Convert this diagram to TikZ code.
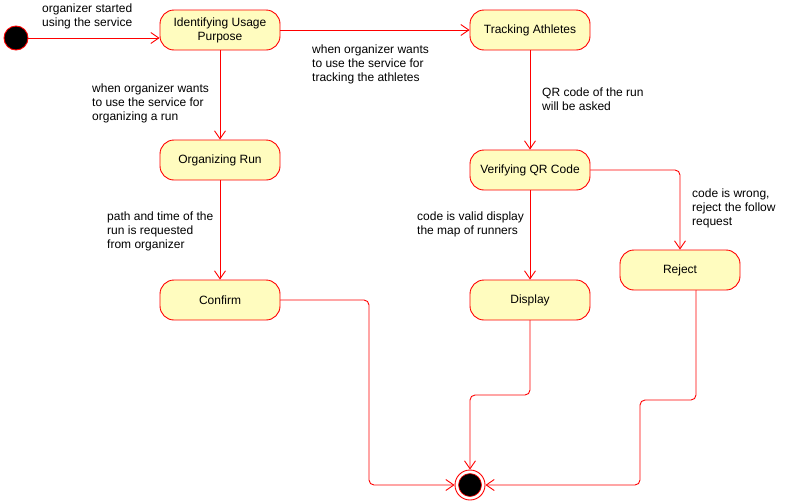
\documentclass[tikz,border=0pt]{standalone}
\usepackage{fontspec}
\setmainfont{Liberation Sans}
\usetikzlibrary{arrows.meta}
\begin{document}
\begin{tikzpicture}[x=1pt,y=-1pt,line join=round,line cap=round,>={Straight Barb[length=8pt,width=11pt]},font=\fontsize{12}{14}\selectfont,
	state/.style={draw=red,fill=yellow!25,rounded corners=14pt,minimum width=120pt,minimum height=40pt,align=center,line width=0.9pt},
	note/.style={anchor=north west,align=left,inner sep=0pt},
	flow/.style={red,line width=0.9pt,->,rounded corners=5pt}]
	\useasboundingbox (0,0) rectangle (791,501);
	\node[circle,draw=red,fill=black,minimum size=24pt,inner sep=0pt,line width=0.9pt] (start) at (16,38) {};
	\node[state] (purpose) at (220,30) {Identifying Usage\\Purpose};
	\node[state] (tracking) at (530,30) {Tracking Athletes};
	\node[state] (organizing) at (220,160) {Organizing Run};
	\node[state] (verify) at (530,170) {Verifying QR Code};
	\node[state] (confirm) at (220,300) {Confirm};
	\node[state] (display) at (530,300) {Display};
	\node[state] (reject) at (680,270) {Reject};
	\node[circle,draw=red,fill=white,minimum size=30pt,inner sep=0pt,line width=0.9pt] (end) at (470,485) {};
	\node[circle,draw=red,fill=black,minimum size=23pt,inner sep=0pt,line width=0.6pt] (endcore) at (end) {};
	\coordinate (c1) at (369,485);
	\coordinate (d1) at (470,395);
	\coordinate (r1) at (640,400);
	\draw[flow] (start) -- (start -| purpose.west);
	\draw[flow] (purpose) -- (tracking);
	\draw[flow] (purpose) -- (organizing);
	\draw[flow] (tracking) -- (verify);
	\draw[flow] (organizing) -- (confirm);
	\draw[flow] (verify) -- (display);
	\draw[flow] (verify.east) -| (reject.north);
	\draw[flow] (confirm.east) -| (c1) -- (end.west);
	\draw[flow] (display.south) |- (d1) -- (end.north);
	\draw[flow] ([xshift=16pt]reject.south) |- (r1) |- (end.east);
	\node[note] (lstart) at (42,4) {organizer started\\using the service};
	\node[note] (ltrack) at (312,45) {when organizer wants\\to use the service for\\tracking the athletes};
	\node[note] (lorg) at (92,84) {when organizer wants\\to use the service for\\organizing a run};
	\node[note] (lqr) at (542,88) {QR code of the run\\will be asked};
	\node[note] (lpath) at (107,212) {path and time of the\\run is requested\\from organizer};
	\node[note] (lvalid) at (417,212) {code is valid display\\the map of runners};
	\node[note] (lwrong) at (692,189) {code is wrong,\\reject the follow\\request};
\end{tikzpicture}
\end{document}
